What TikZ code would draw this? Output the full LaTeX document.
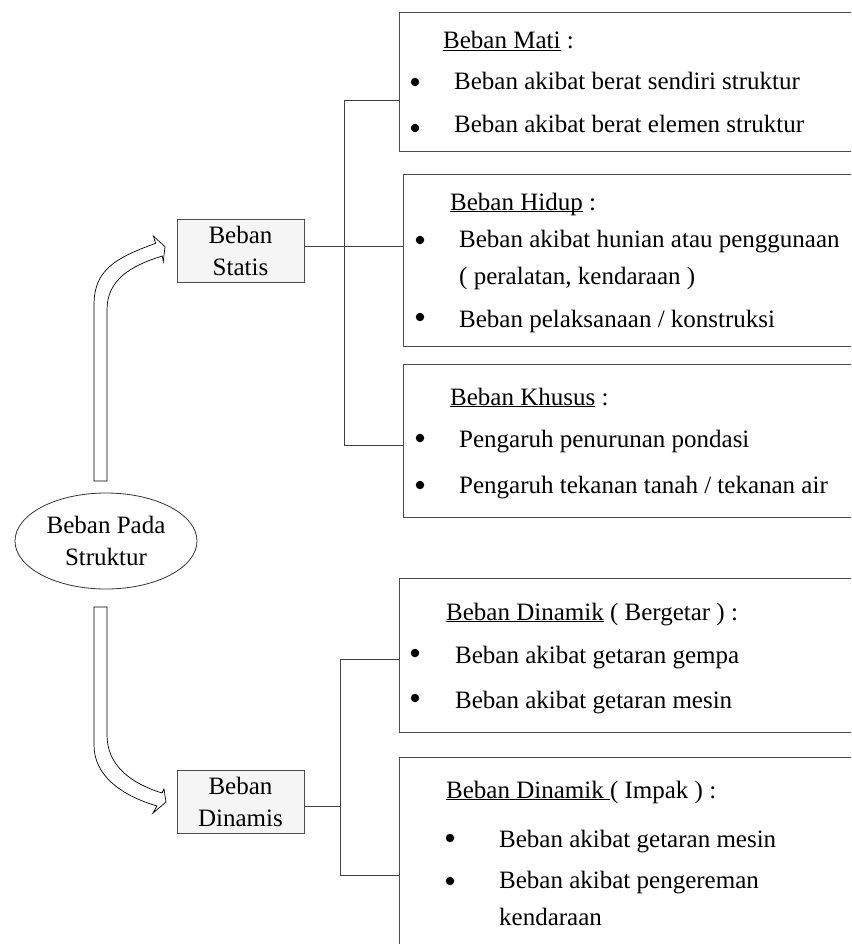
\documentclass[tikz,border=0pt]{standalone}
\usepackage{fontspec}
\setmainfont{Liberation Serif}
\usetikzlibrary{shapes.geometric}
\newcommand\myul[1]{\underline{\smash{#1}}}
\begin{document}
\begin{tikzpicture}[x=1pt,y=-1pt,
  every node/.style={font=\fontsize{25}{32}\selectfont, inner sep=0pt},
  panel/.style={draw=black!70, line width=0.8pt, anchor=north west, fill=white, minimum width=470pt},
  smallbox/.style={draw=black!70, line width=0.8pt, fill=black!4, minimum width=127pt, minimum height=63pt, align=center},
  oval/.style={ellipse, draw=black!80, line width=0.8pt, minimum width=182pt, minimum height=96pt, align=center},
  txt/.style={anchor=base west},
  dot/.style={circle, fill=black, minimum size=8.5pt},
  conn/.style={draw=black!75, line width=0.8pt},
  bigarrow/.style={draw=black, line width=0.7pt, fill=white, line join=miter}
]
\useasboundingbox (0,0) rectangle (851,944);
\clip (0,0) rectangle (851,944);
\fill[white] (0,0) rectangle (851,944);

% panels
\node[panel, minimum height=139pt] (mati) at (399,12) {};
\node[panel, minimum height=172pt] (hidup) at (403,174) {};
\node[panel, minimum height=153pt] (khusus) at (403,364) {};
\node[panel, minimum height=154pt] (getar) at (399,578) {};
\node[panel, minimum height=220pt] (impak) at (399,757) {};

% left nodes
\node[smallbox] (statis) at (240.5,250.5) {Beban\\Statis};
\node[smallbox] (dinamis) at (240.5,801.5) {Beban\\Dinamis};
\node[oval] (root) at (106,541) {Beban Pada\\Struktur};

% connectors
\coordinate (busAtop) at (344,100);
\coordinate (busAbot) at (344,445);
\coordinate (busBtop) at (340,659);
\coordinate (busBbot) at (340,875);
\draw[conn] ([yshift=4pt]statis.east) -- ([yshift=4pt]statis.east -| hidup.west);
\draw[conn] (busAtop -| mati.west) -- (busAtop) -- (busAbot) -- (busAbot -| khusus.west);
\draw[conn] ([yshift=-4.5pt]dinamis.east) -- ([yshift=-4.5pt]dinamis.east -| busBtop);
\draw[conn] (busBtop -| getar.west) -- (busBtop) -- (busBbot) -- (busBbot -| impak.west);

% big curved arrows
\draw[bigarrow] (94,481) -- (94,305) .. controls (94,270) and (115,258) .. (155.7,243.3)
  -- (153.3,236) -- (165,246.7) -- (163.3,261.7) -- (162.3,256)
  .. controls (130,266) and (107,280) .. (107,310) -- (107,481) -- cycle;
\draw[bigarrow] (94,607) -- (94,745) .. controls (94,775) and (120,795) .. (157,806)
  -- (153,813) -- (166,802) -- (164,789) -- (162,793)
  .. controls (130,783) and (107,765) .. (107,735) -- (107,607) -- cycle;

% Beban Mati
\node[txt] (t1) at (443,49) {\myul{Beban Mati} :};
\node[dot] (d11) at (415,82) {};
\node[txt] (t11) at (454,90) {Beban akibat berat sendiri struktur};
\node[dot] (d12) at (415,128) {};
\node[txt] (t12) at (454,133) {Beban akibat berat elemen struktur};

% Beban Hidup
\node[txt] (t2) at (450,210) {\myul{Beban Hidup} :};
\node[dot] (d21) at (420,240) {};
\node[txt] (t21) at (459,247) {Beban akibat hunian atau penggunaan};
\node[txt] (t22) at (459,284) {( peralatan, kendaraan )};
\node[dot] (d22) at (420,317) {};
\node[txt] (t23) at (459,327) {Beban pelaksanaan / konstruksi};

% Beban Khusus
\node[txt] (t3) at (450,405) {\myul{Beban Khusus} :};
\node[dot] (d31) at (420,438) {};
\node[txt] (t31) at (459,447) {Pengaruh penurunan pondasi};
\node[dot] (d32) at (420,485) {};
\node[txt] (t32) at (459,493) {Pengaruh tekanan tanah / tekanan air};

% Beban Dinamik (Bergetar)
\node[txt] (t4) at (446,620) {\myul{Beban Dinamik} ( Bergetar ) :};
\node[dot] (d41) at (415,653) {};
\node[txt] (t41) at (455,663) {Beban akibat getaran gempa};
\node[dot] (d42) at (415,698) {};
\node[txt] (t42) at (455,708) {Beban akibat getaran mesin};

% Beban Dinamik (Impak)
\node[txt] (t5) at (446,798) {\myul{Beban Dinamik\ }( Impak ) :};
\node[dot] (d51) at (450,838) {};
\node[txt] (t51) at (499,847) {Beban akibat getaran mesin};
\node[dot] (d52) at (450,881) {};
\node[txt] (t52) at (499,888) {Beban akibat pengereman};
\node[txt] (t53) at (499,925) {kendaraan};
\end{tikzpicture}
\end{document}
